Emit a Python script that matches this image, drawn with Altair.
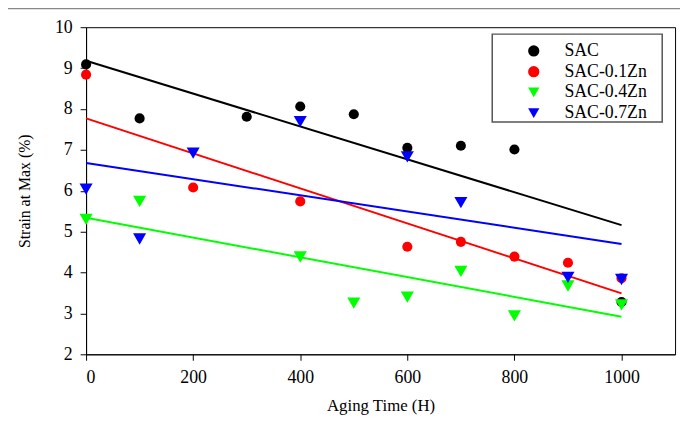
import altair as alt
import pandas as pd

series_names = ["SAC", "SAC-0.1Zn", "SAC-0.4Zn", "SAC-0.7Zn"]
series_colors = ["#000000", "#ff0000", "#00ff00", "#0000ff"]
series_shapes = ["circle", "circle", "triangle-down", "triangle-down"]

sac_x = [0, 100, 300, 400, 500, 600, 700, 800, 1000]
sac_y = [9.09, 7.77, 7.81, 8.06, 7.87, 7.05, 7.10, 7.01, 3.28]

zn01_x = [0, 200, 400, 600, 700, 800, 900, 1000]
zn01_y = [8.84, 6.08, 5.74, 4.63, 4.75, 4.39, 4.24, 3.86]

zn04_x = [0, 100, 400, 500, 600, 700, 800, 900, 1000]
zn04_y = [5.30, 5.74, 4.38, 3.25, 3.40, 4.03, 2.94, 3.67, 3.21]

zn07_x = [0, 100, 200, 400, 600, 700, 900, 1000]
zn07_y = [6.04, 4.82, 6.92, 7.69, 6.83, 5.71, 3.88, 3.83]

# trend lines: value at x=0 and x=1000
trend_x = [0, 1000]
trend_sac = [9.18, 5.16]
trend_zn01 = [7.77, 3.49]
trend_zn04 = [5.34, 2.92]
trend_zn07 = [6.68, 4.70]

x_ticks = [0, 200, 400, 600, 800, 1000]
y_ticks = [2, 3, 4, 5, 6, 7, 8, 9, 10]

pts = []
for name, shp, xs, ys in zip(series_names, series_shapes,
                             [sac_x, zn01_x, zn04_x, zn07_x],
                             [sac_y, zn01_y, zn04_y, zn07_y]):
    for a, b in zip(xs, ys):
        pts.append({"series": name, "shape": shp, "t": a, "v": b})
pts = pd.DataFrame(pts)

FONT = "Liberation Serif"

xscale = alt.Scale(domain=[0, 1100], nice=False, zero=False)
yscale = alt.Scale(domain=[2, 10], nice=False, zero=False)
cscale = alt.Scale(domain=series_names, range=series_colors)
sscale = alt.Scale(domain=series_names, range=series_shapes)

x_enc = alt.X("t:Q", scale=xscale, title="Aging Time  (H)",
              axis=alt.Axis(values=x_ticks, format="d", grid=False, tickSize=6,
                            labelPadding=9, titlePadding=11, labelFontSize=18,
                            titleFontSize=17, labelFont=FONT, titleFont=FONT,
                            labelColor="black", titleColor="black",
                            titleFontWeight="normal", domainColor="black",
                            tickColor="black"))
y_enc = alt.Y("v:Q", scale=yscale, title="Strain at Max (%)",
              axis=alt.Axis(values=y_ticks, grid=False, tickSize=6, labelPadding=8,
                            titlePadding=22, labelFontSize=18, titleFontSize=16,
                            labelFont=FONT, titleFont=FONT, labelColor="black",
                            titleColor="black", titleFontWeight="normal",
                            domainColor="black", tickColor="black"))

trend_layers = []
for name, ys, col in zip(series_names, [trend_sac, trend_zn01, trend_zn04, trend_zn07],
                         series_colors):
    df = pd.DataFrame({"t": trend_x, "v": ys})
    trend_layers.append(
        alt.Chart(df).mark_line(strokeWidth=2, color=col).encode(x=x_enc, y=y_enc)
    )

leg = alt.Legend(title=None, orient="none", legendX=444, legendY=15,
                 labelFont=FONT, labelFontSize=18, labelColor="black",
                 labelOffset=22, rowPadding=3, padding=0, symbolSize=130,
                 symbolStrokeWidth=0)

def point_layer(shape, size):
    return alt.Chart(pts).transform_filter(
        alt.datum.shape == shape
    ).mark_point(filled=True, opacity=1, size=size).encode(
        x=x_enc, y=y_enc,
        color=alt.Color("series:N", scale=cscale, sort=series_names, legend=leg),
        shape=alt.Shape("series:N", scale=sscale, sort=series_names, legend=leg),
    )

circles = point_layer("circle", 105)
triangles = point_layer("triangle-down", 175)

one = pd.DataFrame({"k": [0]})
legend_box = alt.Chart(one).mark_rect(fill=None, stroke="#555555", strokeWidth=1.5).encode(
    x=alt.value(411), x2=alt.value(583), y=alt.value(7), y2=alt.value(96))
outer = alt.Chart(one).mark_rect(fill=None, stroke="#888888", strokeWidth=1.5, clip=False).encode(
    x=alt.value(-82), x2=alt.value(620), y=alt.value(-19), y2=alt.value(420))

chart = alt.layer(outer, *trend_layers, circles, triangles, legend_box).properties(
    width=596, height=331,
    autosize=alt.AutoSizeParams(type="none"),
    padding={"left": 79, "top": 17, "right": 5, "bottom": 60},
).configure_view(stroke="black", strokeWidth=1)

chart.save("out.html", embed_options={"renderer": "svg", "actions": False})
